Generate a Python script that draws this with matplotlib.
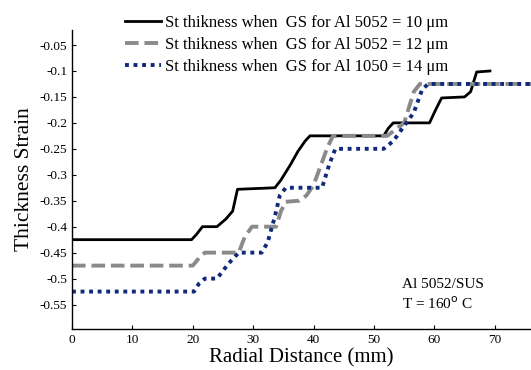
import matplotlib.pyplot as plt

plt.rcParams['font.family'] = ['Liberation Serif', 'DejaVu Serif']

# radial distance (mm) / thickness strain breakpoints for each grain size
x_gs10 = [0, 19.8, 20.6, 21.6, 24.0, 25.5, 26.6, 27.4, 33.6, 34.6, 36.2, 37.4, 38.6, 39.4,
          51.6, 52.4, 53.2, 59.2, 60.2, 61.2, 65.0, 66.0, 67.0, 69.2]
y_gs10 = [-0.425, -0.425, -0.415, -0.4, -0.4, -0.385, -0.37, -0.328, -0.325, -0.31, -0.28,
          -0.255, -0.235, -0.225, -0.225, -0.21, -0.2, -0.2, -0.175, -0.152, -0.15, -0.14,
          -0.102, -0.1]
x_gs12 = [0, 20.0, 21.2, 22.0, 27.6, 28.6, 29.8, 33.8, 34.6, 35.4, 37.6, 38.8, 40.0, 42.2,
          43.2, 52.2, 55.0, 56.6, 57.6, 76]
y_gs12 = [-0.475, -0.475, -0.458, -0.45, -0.45, -0.42, -0.4, -0.4, -0.37, -0.352, -0.35,
          -0.34, -0.32, -0.25, -0.225, -0.225, -0.2, -0.14, -0.125, -0.125]
x_gs14 = [0, 20.2, 21.0, 22.0, 24.0, 26.0, 27.6, 31.4, 32.4, 33.6, 34.4, 35.4, 41.4, 42.6,
          43.6, 51.6, 53.2, 56.6, 58.0, 59.0, 76]
y_gs14 = [-0.525, -0.525, -0.51, -0.5, -0.5, -0.47, -0.45, -0.45, -0.43, -0.38, -0.34,
          -0.325, -0.325, -0.28, -0.25, -0.25, -0.235, -0.18, -0.135, -0.125, -0.125]

labels = ['St thikness when  GS for Al 5052 = 10 \u03bcm',
          'St thikness when  GS for Al 5052 = 12 \u03bcm',
          'St thikness when  GS for Al 1050 = 14 \u03bcm']

fig = plt.figure(figsize=(5.31, 3.70), dpi=100)
ax = fig.add_axes([0.1356, 0.111, 0.8644, 0.808])

ax.plot(x_gs10, y_gs10, color='black', linewidth=2.0, label=labels[0])
ax.plot(x_gs12, y_gs12, color='#8a8a8a', linewidth=2.8, linestyle=(0, (3.5, 1.5)), label=labels[1])
ax.plot(x_gs14, y_gs14, color='#10297a', linewidth=2.8, linestyle=(0, (1, 1.2)), label=labels[2])

ax.set_xlim(0, 76)
ax.set_ylim(-0.597, -0.021)
ax.set_xticks(range(0, 80, 10))
ax.set_yticks([-0.55, -0.5, -0.45, -0.4, -0.35, -0.3, -0.25, -0.2, -0.15, -0.1, -0.05])
ax.set_yticklabels(['-0.55', '-0.5', '-0.45', '-0.4', '-0.35', '-0.3', '-0.25', '-0.2',
                    '-0.15', '-0.1', '-0.05'])
ax.tick_params(direction='in', labelsize=9.5, length=3, width=0.8)
ax.spines['top'].set_visible(False)
ax.spines['right'].set_visible(False)
for s in ['left', 'bottom']:
    ax.spines[s].set_linewidth(1.0)

ax.set_xlabel('Radial Distance (mm)', fontsize=15, labelpad=1.5)
ax.set_ylabel('Thickness Strain', fontsize=15.5, labelpad=4)

ax.text(54.6, -0.512, 'Al 5052/SUS', fontsize=11, va='center')
ax.text(54.6, -0.549, 'T = 160$^{\\rm o}$ C', fontsize=11, va='center')

fig.legend(loc='upper left', bbox_to_anchor=(0.214, 0.992), frameon=False, fontsize=12,
           handlelength=2.15, handletextpad=0.25, labelspacing=0.38, borderaxespad=0.3)

fig.savefig('out.png', dpi=100)
